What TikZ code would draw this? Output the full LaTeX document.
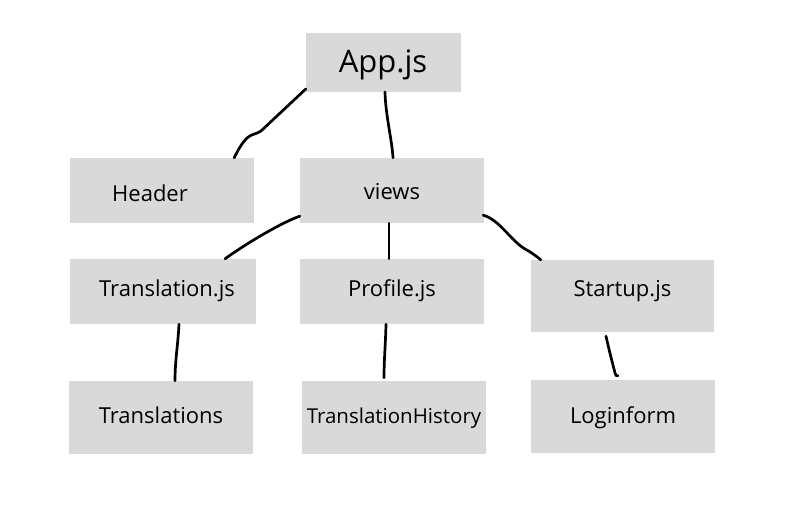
\documentclass[tikz,border=0pt]{standalone}
\usepackage{fontspec}
\setmainfont{Open Sans}
\usetikzlibrary{calc}
\definecolor{boxgray}{HTML}{D9D9D9}
\tikzset{
  box/.style={fill=boxgray, inner sep=0pt, text depth=0pt, font=\fontsize{22}{26}\selectfont},
  wire/.style={line width=2.7pt, line cap=round, line join=round, black}
}
\begin{document}
\begin{tikzpicture}[x=1pt,y=-1pt]
\useasboundingbox (0,0) rectangle (786,511);
\node[box, minimum width=155pt, minimum height=58.5pt, text height=20.4pt, font=\fontsize{31}{36}\selectfont] (app) at (383,62.5) {App.js};
\node[box, minimum width=184pt, minimum height=65pt, text height=21pt] (header) at (162,190.5) {\hspace*{-24pt}Header};
\node[box, minimum width=184pt, minimum height=65pt, text height=17pt] (views) at (392,190.5) {views};
\node[box, minimum width=186pt, minimum height=65pt, text height=9pt] (trans) at (163,291.5) {Translation.js\hspace*{-8pt}};
\node[box, minimum width=184pt, minimum height=65pt, text height=9pt] (profile) at (392,291.5) {Profile.js};
\node[box, minimum width=183pt, minimum height=72pt, text height=10pt, text depth=10pt] (startup) at (622.5,296) {Startup.js};
\node[box, minimum width=184pt, minimum height=73pt, text height=11pt] (translations) at (161,417.5) {Translations};
\node[box, minimum width=184pt, minimum height=73pt, text height=11pt, font=\fontsize{20.5}{24}\selectfont] (history) at (394,417.5) {TranslationHistory};
\node[box, minimum width=184pt, minimum height=73pt, text height=13pt] (login) at (623,416.5) {Loginform};

\draw[wire] ($(app.south west)+(0.5,-3)$) -- (261,131)
  .. controls (257,134) and (251,134) .. (247,138)
  .. controls (242,143) and (238,150) .. ($(header.north east)+(-20,0)$);
\draw[wire] ($(app.south)+(2,0)$) .. controls (385.5,115) and (392,140) .. ($(views.north)+(1,0)$);
\draw[wire] ($(views.south west)+(0,-7)$) .. controls (283,222) and (250,241) .. ($(trans.north)+(62,0)$);
\draw[wire] ($(views.south)+(-3,0)$) -- ($(profile.north)+(-3,0)$);
\draw[wire] ($(views.south east)+(-1,-8)$) .. controls (500,220) and (510,240) .. (525,249)
  .. controls (532,253) .. ($(startup.north west)+(10,0)$);
\draw[wire] ($(trans.south)+(16,0)$) .. controls (178,345) and (175,360) .. ($(translations.north)+(14,0)$);
\draw[wire] ($(profile.south)+(-6,0)$) .. controls (385.5,345) and (384,360) .. ($(history.north)+(-10,-3)$);
\draw[wire] ($(startup.south)+(-16.5,4)$) .. controls (609,350) and (613,365) .. (615,373)
  .. controls (616,376) .. ($(login.north)+(-5,-4)$);
\end{tikzpicture}
\end{document}
